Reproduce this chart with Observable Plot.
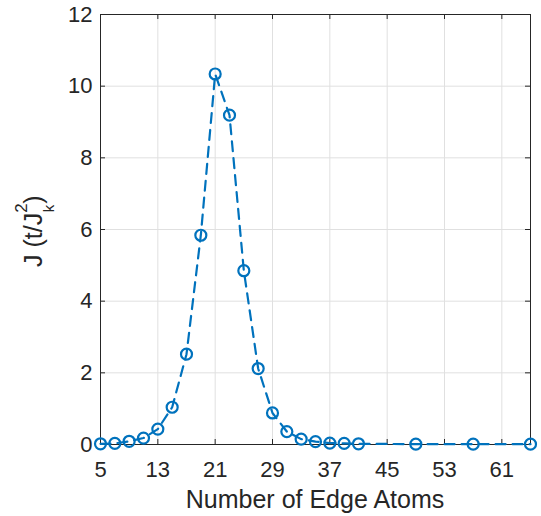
<!DOCTYPE html>
<html>
<head>
<meta charset="utf-8">
<script src="https://cdn.jsdelivr.net/npm/d3@7"></script>
<script src="https://cdn.jsdelivr.net/npm/@observablehq/plot@0.6"></script>
<style>
  html, body { margin: 0; padding: 0; background: #fff; }
  svg { font-family: "Liberation Sans", Arial, sans-serif; }
</style>
</head>
<body>
<div id="chart"></div>
<script>
const edgeAtoms = [5, 7, 9, 11, 13, 15, 17, 19, 21, 23, 25, 27, 29, 31, 33, 35, 37, 39, 41, 49, 57, 65];
const jValues   = [0.02, 0.03, 0.09, 0.18, 0.43, 1.04, 2.52, 5.84, 10.34, 9.19, 4.85, 2.12, 0.88, 0.36, 0.15, 0.08, 0.04, 0.03, 0.02, 0.01, 0.01, 0.01];
const xTicks = [5, 13, 21, 29, 37, 45, 53, 61];
const yTicks = [0, 2, 4, 6, 8, 10, 12];
const xLabel = "Number of Edge Atoms";
const yLabelMain = "J (t/J";
const yLabelSup = "2";
const yLabelSub = "k";
const yLabelEnd = ")";

const data = edgeAtoms.map((x, i) => ({x, y: jValues[i]}));

const W = 541, H = 516;
const mL = 100, mR = 11, mT = 14, mB = 72;
const xDomain = [5, 65], yDomain = [0, 12];
const tickLen = 5;
const dyTick = tickLen * (yDomain[1] - yDomain[0]) / (H - mT - mB);
const dxTick = tickLen * (xDomain[1] - xDomain[0]) / (W - mL - mR);
const axisColor = "#262626";
const blue = "#0072BD";
const fontFam = "'Liberation Sans', Arial, sans-serif";

const chart = Plot.plot({
  width: W,
  height: H,
  marginLeft: mL,
  marginRight: mR,
  marginTop: mT,
  marginBottom: mB,
  style: {fontFamily: fontFam, background: "#fff", color: axisColor},
  x: {domain: xDomain, ticks: xTicks, label: null},
  y: {domain: yDomain, ticks: yTicks, label: null},
  marks: [
    Plot.gridX(xTicks, {stroke: "#e0e0e0", strokeOpacity: 1, strokeWidth: 1}),
    Plot.gridY(yTicks, {stroke: "#e0e0e0", strokeOpacity: 1, strokeWidth: 1}),
    Plot.ruleX(xTicks, {x: d => d, y1: yDomain[0], y2: yDomain[0] + dyTick, stroke: axisColor, strokeWidth: 1}),
    Plot.ruleX(xTicks, {x: d => d, y1: yDomain[1], y2: yDomain[1] - dyTick, stroke: axisColor, strokeWidth: 1}),
    Plot.ruleY(yTicks, {y: d => d, x1: xDomain[0], x2: xDomain[0] + dxTick, stroke: axisColor, strokeWidth: 1}),
    Plot.ruleY(yTicks, {y: d => d, x1: xDomain[1], x2: xDomain[1] - dxTick, stroke: axisColor, strokeWidth: 1}),
    Plot.frame({stroke: axisColor, strokeWidth: 1}),
    Plot.axisX(xTicks, {tickSize: 0, tickPadding: 17, fontSize: 22, fill: axisColor, label: null}),
    Plot.axisY(yTicks, {tickSize: 0, tickPadding: 8, fontSize: 22, fill: axisColor, label: null}),
    Plot.line(data, {x: "x", y: "y", stroke: blue, strokeWidth: 2.2, strokeDasharray: "10,7"}),
    Plot.dot(data, {x: "x", y: "y", r: 5.5, stroke: blue, strokeWidth: 2.2, fill: "none"})
  ]
});

document.getElementById("chart").appendChild(chart);

const svg = d3.select(chart);

// x-axis label
svg.append("text")
  .attr("x", mL + (W - mL - mR) / 2)
  .attr("y", 508)
  .attr("text-anchor", "middle")
  .attr("font-size", 25)
  .attr("fill", axisColor)
  .attr("font-family", fontFam)
  .text(xLabel);

// y-axis label with superscript/subscript
const yl = svg.append("text")
  .attr("transform", `translate(42, 267) rotate(-90)`)
  .attr("text-anchor", "start")
  .attr("font-size", 25)
  .attr("fill", axisColor)
  .attr("font-family", fontFam);
yl.append("tspan").text(yLabelMain);
yl.append("tspan").attr("font-size", 17).attr("dy", -15).text(yLabelSup);
yl.append("tspan").attr("font-size", 15).attr("dx", -9).attr("dy", 27).text(yLabelSub);
yl.append("tspan").attr("dy", -12).attr("dx", 1).text(yLabelEnd);
</script>
</body>
</html>
